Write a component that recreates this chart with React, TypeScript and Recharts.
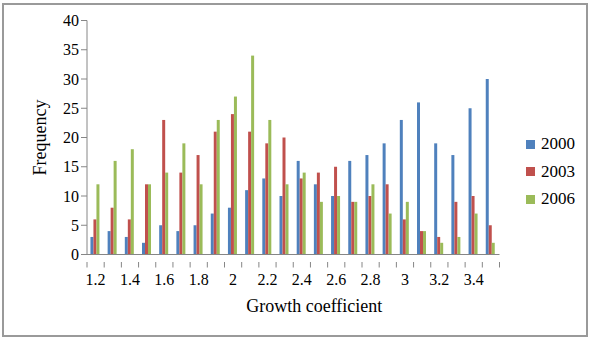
import React from "react";
import { BarChart, Bar, XAxis, YAxis, Label } from "recharts";

// Growth coefficient classes (category axis)
const coefficients = [
  "1.2", "1.3", "1.4", "1.5", "1.6", "1.7", "1.8", "1.9", "2", "2.1", "2.2", "2.3",
  "2.4", "2.5", "2.6", "2.7", "2.8", "2.9", "3", "3.1", "3.2", "3.3", "3.4", "3.5",
];

// Frequency per class for each survey year
const freq2000 = [3, 4, 3, 2, 5, 4, 5, 7, 8, 11, 13, 10, 16, 12, 10, 16, 17, 19, 23, 26, 19, 17, 25, 30];
const freq2003 = [6, 8, 6, 12, 23, 14, 17, 21, 24, 21, 19, 20, 13, 14, 15, 9, 10, 12, 6, 4, 3, 9, 10, 5];
const freq2006 = [12, 16, 18, 12, 14, 19, 12, 23, 27, 34, 23, 12, 14, 9, 10, 9, 12, 7, 9, 4, 2, 3, 7, 2];

const yTicks = [0, 5, 10, 15, 20, 25, 30, 35, 40];

const seriesNames = ["2000", "2003", "2006"];
const seriesColors = ["#4F81BD", "#C0504D", "#9BBB59"];

const data = coefficients.map((x, i) => ({
  x,
  "2000": freq2000[i],
  "2003": freq2003[i],
  "2006": freq2006[i],
}));

const W = 594;
const H = 340;
const PLOT_LEFT = 87;
const PLOT_RIGHT = 499.5;
const PLOT_TOP = 20.5;
const PLOT_BOTTOM = 254.5;
const BAND = (PLOT_RIGHT - PLOT_LEFT) / coefficients.length;

const FONT = "'Liberation Serif', 'Times New Roman', serif";
const AXIS_GRAY = "#868686";

// Category ticks sit on band boundaries; labels on every other band centre.
const XTick = (props: any) => {
  const { x, y, payload, index } = props;
  const i = typeof index === "number" ? index : payload.index;
  const left = x - BAND / 2;
  const last = i === coefficients.length - 1;
  return (
    <g>
      <line x1={left} y1={y - 0.5} x2={left} y2={y + 5} stroke={AXIS_GRAY} strokeWidth={1} />
      {last && (
        <line x1={x + BAND / 2} y1={y - 0.5} x2={x + BAND / 2} y2={y + 5} stroke={AXIS_GRAY} strokeWidth={1} />
      )}
      {i % 2 === 0 && (
        <text x={x} y={y + 11} textAnchor="middle" dominantBaseline="hanging" fontFamily={FONT} fontSize={16} fill="#000">
          {payload.value}
        </text>
      )}
    </g>
  );
};

export default function App() {
  return (
    <div style={{ position: "absolute", left: 0, top: 0, width: W, height: H, background: "#fff" }}>
      <div
        style={{
          position: "absolute",
          left: 2,
          top: 3,
          width: 586,
          height: 334,
          border: "2px solid #9a9a9a",
          boxSizing: "border-box",
        }}
      />
      <BarChart
        width={W}
        height={H}
        data={data}
        margin={{ top: PLOT_TOP, right: W - PLOT_RIGHT, left: 0, bottom: 0 }}
        barCategoryGap="20%"
        barGap={0}
      >
        <XAxis
          dataKey="x"
          type="category"
          interval={0}
          height={H - PLOT_BOTTOM}
          tickLine={false}
          axisLine={{ stroke: AXIS_GRAY }}
          tick={<XTick />}
        >
          <Label
            value="Growth coefficient"
            position="insideBottom"
            offset={28}
            dx={21}
            style={{ fontFamily: FONT, fontSize: 18, fill: "#000" }}
          />
        </XAxis>
        <YAxis
          type="number"
          domain={[0, 40]}
          ticks={yTicks}
          interval={0}
          width={PLOT_LEFT}
          tickSize={6}
          tickMargin={2}
          axisLine={{ stroke: AXIS_GRAY }}
          tickLine={{ stroke: AXIS_GRAY }}
          tick={{ fontFamily: FONT, fontSize: 16, fill: "#000" }}
        >
          <Label
            content={() => (
              <text
                x={40}
                y={(PLOT_TOP + PLOT_BOTTOM) / 2}
                transform={`rotate(-90, 40, ${(PLOT_TOP + PLOT_BOTTOM) / 2})`}
                textAnchor="middle"
                dominantBaseline="central"
                fontFamily={FONT}
                fontSize={18}
                fill="#000"
              >
                Frequency
              </text>
            )}
          />
        </YAxis>
        {seriesNames.map((name, i) => (
          <Bar key={name} dataKey={name} fill={seriesColors[i]} isAnimationActive={false} />
        ))}
      </BarChart>
      {seriesNames.map((name, i) => (
        <div
          key={name}
          style={{
            position: "absolute",
            left: 526,
            top: 144 + i * 27.6 - 10,
            height: 20,
            display: "flex",
            alignItems: "center",
            fontFamily: FONT,
            fontSize: 17,
            color: "#000",
          }}
        >
          <span style={{ display: "inline-block", width: 9, height: 9, background: seriesColors[i], marginRight: 6 }} />
          <span>{name}</span>
        </div>
      ))}
    </div>
  );
}
